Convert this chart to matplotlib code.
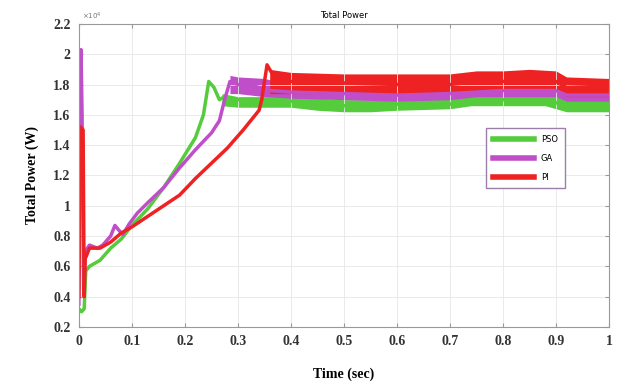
import matplotlib.pyplot as plt
import numpy as np

# time axis (sec) and total power (x 10^4 W)
t_pso = [0, 0.005, 0.01, 0.013, 0.02, 0.04, 0.06, 0.08, 0.10, 0.13, 0.16, 0.19, 0.22,
         0.235, 0.245, 0.255, 0.265, 0.275, 0.30, 0.35, 0.4, 0.5, 0.55, 0.6, 0.7, 0.74,
         0.8, 0.88, 0.92, 1.0]
p_pso = [0.32, 0.30, 0.32, 0.57, 0.60, 0.64, 0.72, 0.78, 0.87, 0.98, 1.12, 1.28, 1.45,
         1.60, 1.82, 1.78, 1.70, 1.72, 1.70, 1.69, 1.69, 1.66, 1.65, 1.67, 1.67, 1.70,
         1.70, 1.70, 1.66, 1.66]

t_ga = [0, 0.002, 0.004, 0.006, 0.009, 0.012, 0.02, 0.035, 0.045, 0.06, 0.068, 0.075,
        0.083, 0.095, 0.11, 0.13, 0.16, 0.19, 0.22, 0.25, 0.265, 0.275, 0.285, 0.30,
        0.33, 0.36, 0.4, 0.5, 0.6, 0.7, 0.8, 0.85, 0.9, 0.92, 1.0]
p_ga = [0.35, 1.70, 2.03, 1.60, 0.45, 0.70, 0.74, 0.72, 0.74, 0.80, 0.87, 0.84,
        0.81, 0.88, 0.95, 1.02, 1.12, 1.25, 1.37, 1.48, 1.56, 1.70, 1.82, 1.80,
        1.79, 1.76, 1.75, 1.74, 1.73, 1.74, 1.76, 1.76, 1.76, 1.73, 1.73]

t_pi = [0, 0.003, 0.008, 0.010, 0.012, 0.02, 0.04, 0.06, 0.08, 0.10, 0.13, 0.16, 0.19,
        0.22, 0.25, 0.28, 0.31, 0.34, 0.345, 0.355, 0.37, 0.40, 0.5, 0.6, 0.7, 0.75,
        0.8, 0.85, 0.9, 0.92, 1.0]
p_pi = [0.40, 1.52, 1.50, 0.40, 0.65, 0.72, 0.72, 0.76, 0.82, 0.86, 0.93, 1.00, 1.07,
        1.18, 1.28, 1.38, 1.50, 1.63, 1.70, 1.93, 1.84, 1.82, 1.81, 1.80, 1.80, 1.82,
        1.82, 1.83, 1.82, 1.78, 1.79]

# ripple envelopes in steady state
tb_pso = [0.27, 0.3, 0.35, 0.4, 0.45, 0.5, 0.55, 0.6, 0.7, 0.74, 0.8, 0.88, 0.92, 1.0]
up_pso = [1.74, 1.72, 1.72, 1.72, 1.71, 1.70, 1.70, 1.70, 1.71, 1.74, 1.74, 1.74, 1.70, 1.70]
lo_pso = [1.66, 1.65, 1.65, 1.65, 1.63, 1.62, 1.62, 1.63, 1.64, 1.66, 1.66, 1.66, 1.62, 1.62]

tb_ga = [0.285, 0.3, 0.35, 0.4, 0.5, 0.6, 0.7, 0.75, 0.8, 0.85, 0.9, 0.92, 1.0]
up_ga = [1.86, 1.85, 1.84, 1.80, 1.79, 1.78, 1.78, 1.80, 1.80, 1.80, 1.80, 1.77, 1.77]
lo_ga = [1.74, 1.74, 1.72, 1.71, 1.70, 1.69, 1.70, 1.72, 1.72, 1.72, 1.72, 1.69, 1.69]

tb_pi = [0.36, 0.4, 0.5, 0.6, 0.7, 0.75, 0.8, 0.85, 0.9, 0.92, 1.0]
up_pi = [1.90, 1.88, 1.87, 1.87, 1.87, 1.89, 1.89, 1.90, 1.89, 1.85, 1.84]
lo_pi = [1.74, 1.74, 1.74, 1.73, 1.74, 1.76, 1.76, 1.76, 1.76, 1.72, 1.72]

xticks = [0, 0.1, 0.2, 0.3, 0.4, 0.5, 0.6, 0.7, 0.8, 0.9, 1]
xtick_labels = ['0', '0.1', '0.2', '0.3', '0.4', '0.5', '0.6', '0.7', '0.8', '0.9', '1']
yticks = [0.2, 0.4, 0.6, 0.8, 1.0, 1.2, 1.4, 1.6, 1.8, 2.0, 2.2]
ytick_labels = ['0.2', '0.4', '0.6', '0.8', '1', '1.2', '1.4', '1.6', '1.8', '2', '2.2']

c_pso = '#55CC3C'
c_ga = '#C04EC8'
c_pi = '#EE2222'

fig = plt.figure(figsize=(6.31, 3.92), dpi=100)
ax = fig.add_axes([0.125, 0.166, 0.84, 0.773])

ax.plot(t_pso, p_pso, color=c_pso, lw=2.5, label='PSO')
ax.fill_between(tb_pso, lo_pso, up_pso, color=c_pso, lw=0)
ax.plot(t_ga, p_ga, color=c_ga, lw=2.5, label='GA')
ax.fill_between(tb_ga, lo_ga, up_ga, color=c_ga, lw=0)
ax.plot(t_pi, p_pi, color=c_pi, lw=2.5, label='PI')
ax.fill_between(tb_pi, lo_pi, up_pi, color=c_pi, lw=0)

ax.set_xlim(0, 1)
ax.set_ylim(0.2, 2.2)
ax.set_xticks(xticks)
ax.set_xticklabels(xtick_labels)
ax.set_yticks(yticks)
ax.set_yticklabels(ytick_labels)
for lab in ax.get_xticklabels() + ax.get_yticklabels():
    lab.set_family('Liberation Serif')
    lab.set_fontweight('bold')
    lab.set_fontsize(10)
    lab.set_color('#333333')
ax.tick_params(direction='in', top=True, right=True, length=3, color='#999999', pad=6)
ax.grid(True, color='#e6e6e6', lw=0.6)
for s in ax.spines.values():
    s.set_color('#999999')
    s.set_linewidth(0.8)

ax.set_title('Total Power', fontsize=6, pad=4)
ax.set_xlabel('Time (sec)', family='Liberation Serif', fontweight='bold', fontsize=10, labelpad=14)
ax.set_ylabel('Total Power (W)', family='Liberation Serif', fontweight='bold', fontsize=10, labelpad=10)
ax.text(0.005, 1.005, r'$\times10^4$', transform=ax.transAxes, fontsize=5, color='#777777',
        va='bottom')

leg = ax.legend(loc='upper left', bbox_to_anchor=(0.76, 0.67), fontsize=6, handlelength=5,
                fancybox=False, framealpha=1, borderpad=0.8, labelspacing=1.2)
leg.get_frame().set_edgecolor('#9a7fa8')
for line in leg.get_lines():
    line.set_linewidth(4)

plt.savefig('out.png', dpi=100)
